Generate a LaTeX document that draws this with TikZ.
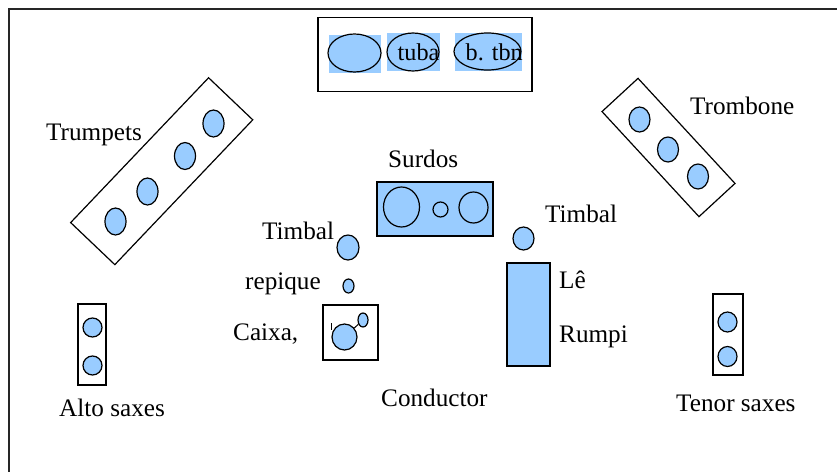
\documentclass[tikz,border=0pt]{standalone}
\usepackage{fontspec}
\setmainfont{Liberation Serif}
\usetikzlibrary{shapes.geometric}
\definecolor{padblue}{RGB}{153,204,255}

\begin{document}
\begin{tikzpicture}[x=1pt,y=-1pt,
    font=\fontsize{25.2}{30}\selectfont,
    seat/.style={ellipse,draw,fill=padblue,line width=1.2pt,inner sep=0pt},
    pen/.style={rectangle,draw,line width=1.2pt,inner sep=0pt},
    tag/.style={inner sep=0pt,anchor=base west}]

      \useasboundingbox (0,0) rectangle (837,471);

      % The outer frame, cut off at the right and the bottom.
      \draw [line width=2pt,black!85] (9,490) -- (9,9) -- (860,9);

      % The low brass at the back.
      \node [pen,minimum width=214pt,minimum height=74pt] (lowbrass) at (425,54.5) {};
      \fill [padblue] (329,35) rectangle (381,73);
      \fill [padblue] (387,33) rectangle (440,71);
      \fill [padblue] (455,33) rectangle (522,71);
      \node [ellipse,draw,line width=1.2pt,minimum width=53pt,minimum height=38pt] (sousa) at (354.5,53) {};
      \node [ellipse,draw,line width=1.2pt,minimum width=52pt,minimum height=38pt] (tuba) at (413,52) {};
      \node [ellipse,draw,line width=1.2pt,minimum width=67pt,minimum height=37pt] (btbn) at (487.5,51.5) {};
      \node [tag,font=\fontsize{24.2}{29}\selectfont] (tubatag) at (397.5,60) {tuba};
      \node [tag,font=\fontsize{24.2}{29}\selectfont] (btbntag) at (465.5,60) {b. tbn};

      % The trumpets.
      \node [pen,minimum width=200pt,minimum height=61pt,rotate=46.4] (trumpets) at (161.7,171.2) {};
      \node [seat,minimum width=21pt,minimum height=27pt] (tpa) at (115.5,221.5) {};
      \node [seat,minimum width=21pt,minimum height=27pt] (tpb) at (147.5,191.5) {};
      \node [seat,minimum width=21pt,minimum height=27pt] (tpc) at (185,156) {};
      \node [seat,minimum width=21pt,minimum height=27pt] (tpd) at (213.5,123.5) {};
      \node [tag] (trumpetstag) at (46,140) {Trumpets};

      % The trombones.
      \node [pen,minimum width=143pt,minimum height=49pt,rotate=-47.3] (trombones) at (668.5,147.5) {};
      \node [seat,minimum width=21pt,minimum height=25pt] (tba) at (639.5,119.5) {};
      \node [seat,minimum width=21pt,minimum height=25pt] (tbb) at (668,149.5) {};
      \node [seat,minimum width=21pt,minimum height=25pt] (tbc) at (698,176.5) {};
      \node [tag] (trombonetag) at (690,114) {Trombone};

      % The surdos.
      \node [pen,fill=padblue,minimum width=116pt,minimum height=54pt] (surdos) at (435,209) {};
      \node [ellipse,draw,line width=1.2pt,minimum width=36pt,minimum height=40pt] (surdoa) at (401.5,207) {};
      \node [ellipse,draw,line width=1.2pt,minimum width=15pt,minimum height=15pt] (surdob) at (440.5,209.5) {};
      \node [ellipse,draw,line width=1.2pt,minimum width=29pt,minimum height=31pt] (surdoc) at (473.5,207.5) {};
      \node [tag] (surdostag) at (388,167) {Surdos};

      % The left timbal, the repique and the caixa.
      \node [seat,minimum width=22pt,minimum height=25pt] (timballeft) at (348,247.5) {};
      \node [tag] (timballefttag) at (262,239) {Timbal};
      \node [seat,minimum width=11pt,minimum height=14pt] (repique) at (348.5,286) {};
      \node [tag] (repiquetag) at (245,289) {repique};
      \node [pen,minimum width=55pt,minimum height=55pt] (caixabox) at (350.5,332.5) {};
      \node [seat,minimum width=25pt,minimum height=26pt] (caixabig) at (344.5,337) {};
      \node [seat,minimum width=10pt,minimum height=14pt] (caixasmall) at (363,320) {};
      \draw [line width=1pt] (caixabig) -- (caixasmall);
      \draw [line width=1pt] (331.5,323) -- (331.5,329.5);
      \node [tag] (caixatag) at (233,340) {Caixa,};

      % The right timbal and the rumpi.
      \node [seat,minimum width=21pt,minimum height=23pt] (timbalright) at (523.5,238.5) {};
      \node [tag] (timbalrighttag) at (545,222) {Timbal};
      \node [pen,fill=padblue,minimum width=43pt,minimum height=103pt] (rumpi) at (528.5,314.5) {};
      \node [tag] (letag) at (559,288) {Lê};
      \node [tag] (rumpitag) at (559,342.5) {Rumpi};

      % The alto saxes.
      \node [pen,minimum width=28pt,minimum height=81pt] (altos) at (92,344.5) {};
      \node [seat,minimum width=19pt,minimum height=19pt] (altoa) at (92.5,327.5) {};
      \node [seat,minimum width=19pt,minimum height=19pt] (altob) at (92.5,365.5) {};
      \node [tag] (altostag) at (59,416.5) {Alto saxes};

      % The tenor saxes.
      \node [pen,minimum width=30pt,minimum height=81pt] (tenors) at (728,334.5) {};
      \node [seat,minimum width=19pt,minimum height=20pt] (tenora) at (727.5,322) {};
      \node [seat,minimum width=19pt,minimum height=20pt] (tenorb) at (727.5,356.5) {};
      \node [tag] (tenorstag) at (676,411) {Tenor saxes};

      % The conductor.
      \node [tag] (conductor) at (381,406.5) {Conductor};

    \end{tikzpicture}
\end{document}
